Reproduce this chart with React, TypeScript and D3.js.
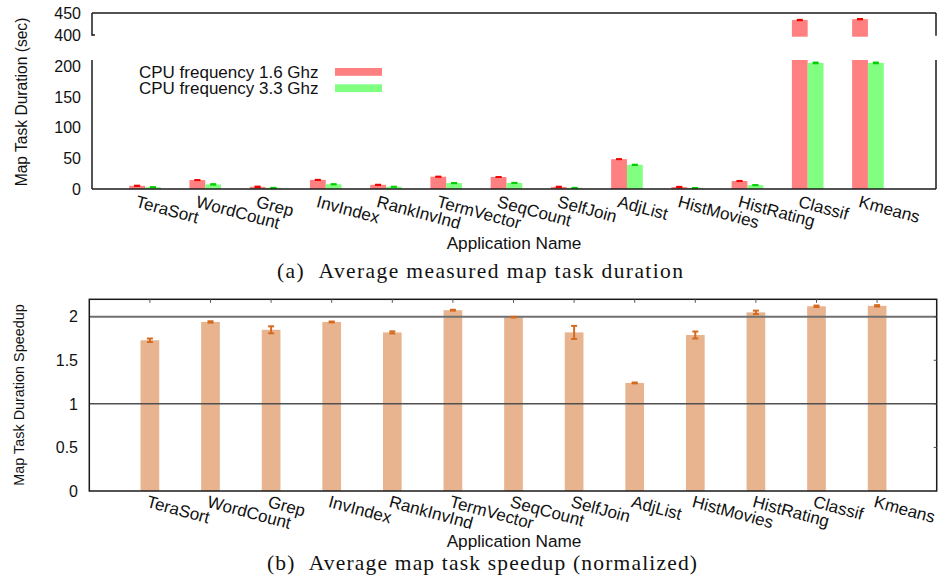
import React from "react";
import * as d3 from "d3";

// Applications on the x axis of both panels
const categories = [
  "TeraSort", "WordCount", "Grep", "InvIndex", "RankInvInd", "TermVector", "SeqCount",
  "SelfJoin", "AdjList", "HistMovies", "HistRating", "Classif", "Kmeans",
];

// Average map task duration (sec) per CPU frequency
const duration16 = [5.2, 14.5, 3.5, 14.8, 6.8, 20.0, 19.5, 3.4, 48.5, 3.2, 13.0, 434, 436];
const duration33 = [3.0, 7.5, 1.9, 7.7, 3.7, 9.6, 9.8, 1.9, 39.3, 1.8, 6.3, 205, 205];
const error16 = [0.6, 0.4, 0.8, 0.5, 0.5, 0.5, 0.3, 0.7, 0.4, 0.7, 0.5, 1.0, 1.0];
const error33 = [0.5, 0.8, 0.4, 0.6, 0.4, 0.6, 0.6, 0.4, 0.6, 0.3, 0.5, 1.0, 1.0];
const seriesLabels = ["CPU frequency 1.6 Ghz", "CPU frequency 3.3 Ghz"];

// Normalized speedup (1.6 GHz duration / 3.3 GHz duration)
const speedup = [1.73, 1.94, 1.85, 1.94, 1.82, 2.075, 1.995, 1.82, 1.24, 1.79, 2.05, 2.12, 2.125];
const speedupError = [0.02, 0.008, 0.04, 0.005, 0.012, 0.005, 0.004, 0.075, 0.005, 0.04, 0.02, 0.008, 0.008];

const durationTicksLow = [0, 50, 100, 150, 200];
const durationTicksHigh = [400, 450];
const speedupTicks = [0, 0.5, 1, 1.5, 2];
const speedupRefLines = [1, 2];

const captionA = "(a)\u00a0\u00a0Average measured map task duration";
const captionB = "(b)\u00a0\u00a0Average map task speedup (normalized)";

const SANS = "'Liberation Sans', Arial, Helvetica, sans-serif";
const SERIF = "'Liberation Serif', 'Times New Roman', serif";

const RED_FILL = "#ff8080";
const GREEN_FILL = "#80ff80";
const RED_ERR = "#ee0000";
const GREEN_ERR = "#00d000";
const TAN_FILL = "#e8b48f";
const TAN_ERR = "#d66a1e";

const LABEL_SIZE = 17;
const LABEL_ANGLE = 15;

function DurationPanel() {
  const left = 92, right = 936;
  const hiTop = 13, hiBottom = 35.7, loTop = 60, bottom = 189;
  const x = d3.scaleLinear().domain([-0.88, 13.13]).range([left, right]);
  const yLo = d3.scaleLinear().domain([0, 200]).range([bottom, 66]);
  const yHi = d3.scaleLinear().domain([400, 450]).range([35, hiTop]);
  const loMax = yLo.invert(loTop);
  const barW = 15.8;
  const series = [
    { values: duration16, errors: error16, fill: RED_FILL, err: RED_ERR },
    { values: duration33, errors: error33, fill: GREEN_FILL, err: GREEN_ERR },
  ];
  const yOf = (v: number) => (v > loMax ? yHi(v) : yLo(v));

  return (
    <g>
      {series.map((s, si) =>
        s.values.map((v, i) => {
          const x0 = x(i) + (si - 1) * barW;
          const lowTopY = yLo(Math.min(v, loMax));
          const cx = x0 + barW / 2;
          const e = s.errors[i];
          return (
            <g key={`b${si}-${i}`}>
              <rect x={x0} y={lowTopY} width={barW} height={bottom - lowTopY} fill={s.fill} />
              {v > loMax && (
                <rect x={x0} y={yHi(v)} width={barW} height={hiBottom + 1 - yHi(v)} fill={s.fill} />
              )}
              <line x1={cx} x2={cx} y1={yOf(v - e)} y2={yOf(v + e)} stroke={s.err} strokeWidth={1.5} />
              <line x1={cx - 3} x2={cx + 3} y1={yOf(v + e)} y2={yOf(v + e)} stroke={s.err} strokeWidth={1.5} />
              <line x1={cx - 3} x2={cx + 3} y1={yOf(v - e)} y2={yOf(v - e)} stroke={s.err} strokeWidth={1.5} />
            </g>
          );
        })
      )}

      {/* broken frame */}
      <g stroke="#1a1a1a" strokeWidth={1.5} fill="none">
        <line x1={left} x2={right} y1={hiTop} y2={hiTop} />
        <line x1={left} x2={right} y1={bottom} y2={bottom} />
        <line x1={left} x2={left} y1={hiTop} y2={hiBottom} />
        <line x1={left} x2={left} y1={loTop} y2={bottom} />
        <line x1={right} x2={right} y1={hiTop} y2={hiBottom} />
        <line x1={right} x2={right} y1={loTop} y2={bottom} />
        <line x1={left} x2={left + 3} y1={yHi(400)} y2={yHi(400)} />
      </g>

      {/* y tick labels */}
      <g fontFamily={SANS} fontSize={16} fill="#111" textAnchor="end">
        {durationTicksLow.map((t) => (
          <text key={`l${t}`} x={81} y={yLo(t)} dy="0.36em">{t}</text>
        ))}
        {durationTicksHigh.map((t) => (
          <text key={`h${t}`} x={81} y={yHi(t)} dy="0.36em">{t}</text>
        ))}
      </g>

      {/* x tick labels */}
      <g fontFamily={SANS} fontSize={LABEL_SIZE} fill="#111">
        {categories.map((c, i) => (
          <text key={c} transform={`translate(${x(i) - 7},${195}) rotate(${LABEL_ANGLE})`} dy="0.72em">{c}</text>
        ))}
      </g>

      <text x={514} y={243} dy="0.36em" textAnchor="middle" fontFamily={SANS} fontSize={17.2} fill="#111">
        Application Name
      </text>
      <text
        transform={`translate(21,102) rotate(-90)`}
        dy="0.36em"
        textAnchor="middle"
        fontFamily={SANS}
        fontSize={15.6}
        fill="#111"
      >
        Map Task Duration (sec)
      </text>

      {/* legend */}
      <g fontFamily={SANS} fontSize={17} fill="#111">
        {seriesLabels.map((lab, k) => (
          <g key={lab}>
            <text x={139} y={71.8 + k * 16} dy="0.34em">{lab}</text>
            <rect x={335} y={68 + k * 16.3} width={47} height={7.8} fill={k === 0 ? RED_FILL : GREEN_FILL} />
          </g>
        ))}
      </g>

      <text
        x={277}
        y={270}
        dy="0.36em"
        textLength={406}
        lengthAdjust="spacing"
        fontFamily={SERIF}
        fontSize={21.5}
        fill="#111"
      >
        {captionA}
      </text>
    </g>
  );
}

function SpeedupPanel() {
  const left = 89.3, right = 936.7, topY = 299.3, bottom = 491;
  const x = d3.scaleLinear().domain([0, 14]).range([left, right + 1]);
  const y = d3.scaleLinear().domain([0, 2.2]).range([bottom, topY]);
  const barW = 18.7;

  return (
    <g>
      {speedup.map((v, i) => (
        <rect key={`s${i}`} x={x(i + 1) - barW / 2} y={y(v)} width={barW} height={bottom - y(v)} fill={TAN_FILL} />
      ))}

      {/* reference lines drawn over the bars */}
      {speedupRefLines.map((r) => (
        <line
          key={`r${r}`}
          x1={left}
          x2={right}
          y1={y(r)}
          y2={y(r)}
          stroke={r === 2 ? "#707070" : "#505050"}
          strokeWidth={r === 2 ? 2 : 1.5}
        />
      ))}

      {speedup.map((v, i) => {
        const cx = x(i + 1);
        const e = speedupError[i];
        return (
          <g key={`e${i}`} stroke={TAN_ERR} strokeWidth={2}>
            <line x1={cx} x2={cx} y1={y(v - e)} y2={y(v + e)} />
            <line x1={cx - 3} x2={cx + 3} y1={y(v + e)} y2={y(v + e)} />
            <line x1={cx - 3} x2={cx + 3} y1={y(v - e)} y2={y(v - e)} />
          </g>
        );
      })}

      <g stroke="#1a1a1a" strokeWidth={1.5} fill="none">
        <rect x={left} y={topY} width={right - left} height={bottom - topY} />
      </g>
      <g stroke="#555" strokeWidth={1}>
        {categories.map((c, i) => (
          <line key={`t${c}`} x1={x(i + 1)} x2={x(i + 1)} y1={topY} y2={topY + 3.5} />
        ))}
        {speedupTicks.filter((t) => t > 0).map((t) => (
          <line key={`rt${t}`} x1={right - 3} x2={right} y1={y(t)} y2={y(t)} />
        ))}
      </g>

      <g fontFamily={SANS} fontSize={16} fill="#111" textAnchor="end">
        {speedupTicks.map((t) => (
          <text key={`y${t}`} x={78} y={y(t)} dy="0.36em">{t}</text>
        ))}
      </g>

      <g fontFamily={SANS} fontSize={LABEL_SIZE} fill="#111">
        {categories.map((c, i) => (
          <text key={c} transform={`translate(${x(i + 1) - 1},${495}) rotate(${LABEL_ANGLE})`} dy="0.72em">{c}</text>
        ))}
      </g>

      <text x={514} y={541} dy="0.36em" textAnchor="middle" fontFamily={SANS} fontSize={17.2} fill="#111">
        Application Name
      </text>
      <text
        transform={`translate(18.5,395) rotate(-90)`}
        dy="0.36em"
        textAnchor="middle"
        fontFamily={SANS}
        fontSize={14.4}
        fill="#111"
      >
        Map Task Duration Speedup
      </text>

      <text
        x={267}
        y={562}
        dy="0.36em"
        textLength={430}
        lengthAdjust="spacing"
        fontFamily={SERIF}
        fontSize={21.5}
        fill="#111"
      >
        {captionB}
      </text>
    </g>
  );
}

export default function App() {
  return (
    <svg
      width={938}
      height={579}
      viewBox="0 0 938 579"
      style={{ position: "absolute", left: 0, top: 0, background: "#fff" }}
    >
      <rect width={938} height={579} fill="#fff" />
      <DurationPanel />
      <SpeedupPanel />
    </svg>
  );
}
